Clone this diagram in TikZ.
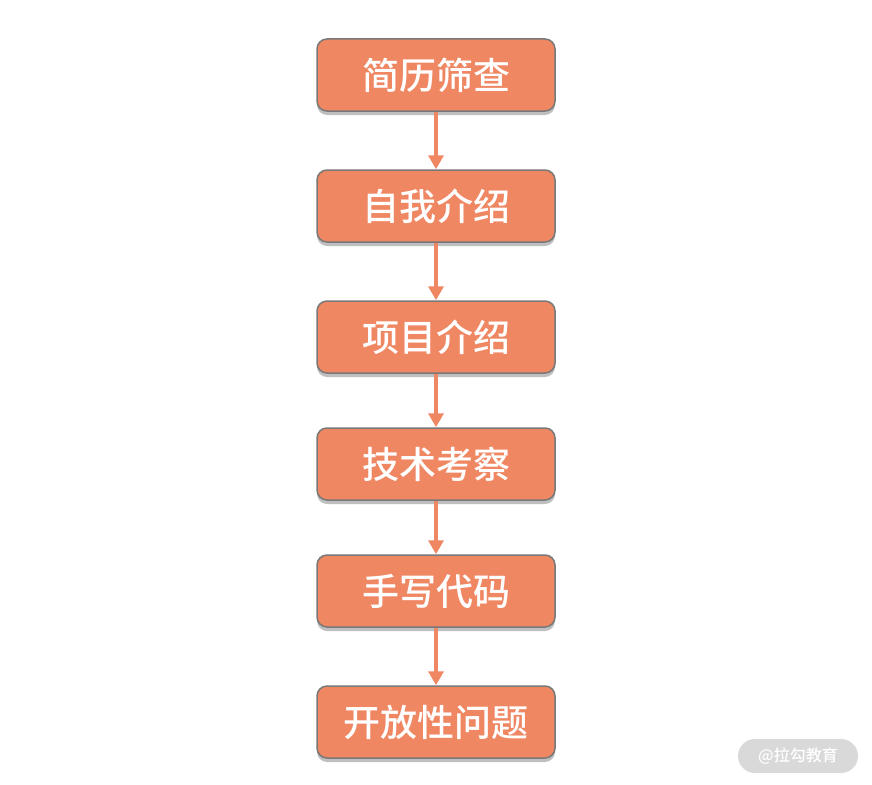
\documentclass[tikz,border=0pt]{standalone}
\usepackage{fontspec}
\newfontfamily\cjk{Noto Sans CJK SC}[BoldFont={Noto Sans CJK SC Medium}]
\usetikzlibrary{arrows.meta}
\usetikzlibrary{shadows}
\definecolor{boxorange}{HTML}{F08763}
\definecolor{boxline}{HTML}{787878}
\definecolor{markgray}{HTML}{D9D9D9}

\begin{document}
\begin{tikzpicture}[x=1pt,y=-1pt]

\tikzstyle{every node}=[font=\cjk]
\tikzstyle{stage}=[draw=boxline, line width=1.5pt, fill=boxorange, rounded corners=10pt,
  minimum width=238pt, minimum height=72pt, text=white, font=\cjk\bfseries\fontsize{37}{40}\selectfont,
  drop shadow={shadow xshift=0pt, shadow yshift=-4pt, opacity=0.25, fill=black}]
\tikzstyle{flow}=[draw=boxorange, line width=4pt, -{Triangle[length=14pt,width=15pt]}]

\useasboundingbox (0,0) rectangle (872,784);

% stages
\node [stage] (resume) at (436,75) {简历筛查};
\node [stage] (intro) at (436,206) {自我介绍};
\node [stage] (project) at (436,337) {项目介绍};
\node [stage] (tech) at (436,464) {技术考察};
\node [stage] (coding) at (436,591) {手写代码};
\node [stage] (open) at (436,722) {开放性问题};

% arrows
\draw[flow] (resume) -- (intro);
\draw[flow] (intro) -- (project);
\draw[flow] (project) -- (tech);
\draw[flow] (tech) -- (coding);
\draw[flow] (coding) -- (open);

% mark
\node [fill=markgray, rounded corners=17pt, minimum width=120pt, minimum height=34pt,
  text=white, font=\cjk\bfseries\fontsize{16}{18}\selectfont] (mark) at (798,756) {@拉勾教育};

\end{tikzpicture}
\end{document}
